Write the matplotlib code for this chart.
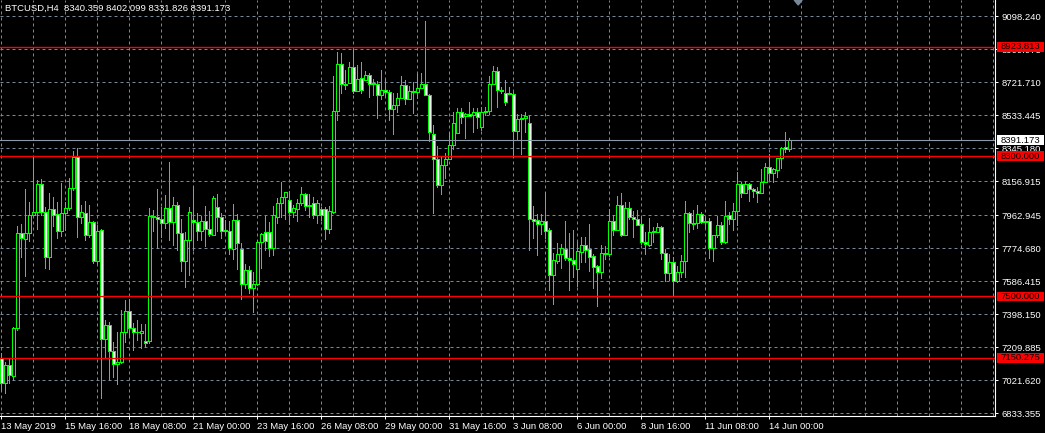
import numpy as np
import matplotlib
matplotlib.use("Agg")
import matplotlib.pyplot as plt
import matplotlib.transforms as mtransforms
from matplotlib.patches import Rectangle

plt.rcParams['font.family'] = ['Liberation Sans', 'DejaVu Sans']

symbol = 'BTCUSD,H4'

# H4 bars from 13 May 2019 00:00
opens = [
    7149, 7006, 7109, 7046, 7320, 7862, 7828, 7862, 7965, 7982,
    8142, 7982, 7725, 7999, 7970, 7873, 7976, 8005, 8119, 8296,
    7953, 7975, 7851, 7925, 7702, 7879, 7257, 7337, 7189, 7115,
    7126, 7297, 7417, 7320, 7297, 7291, 7246, 7246, 7959, 7953,
    7942, 7919, 8005, 7925, 8022, 7862, 7702, 7822, 7936, 7925,
    7873, 7930, 7885, 7851, 8010, 7953, 7873, 7873, 7771, 7936,
    7771, 7571, 7651, 7548, 7571, 7811, 7868, 7868, 7776, 7953,
    8033, 8068, 8050, 7982, 7999, 8033, 8084, 8016, 8033, 7965,
    7999, 7999, 7885, 7982, 8558, 8826, 8712, 8718, 8809, 8672,
    8746, 8735, 8763, 8712, 8712, 8649, 8678, 8666, 8569, 8592,
    8632, 8706, 8626, 8672, 8666, 8689, 8712, 8649, 8427, 8284,
    8136, 8250, 8284, 8364, 8432, 8552, 8529, 8541, 8535, 8552,
    8467, 8552, 8558, 8712, 8786, 8678, 8661, 8661, 8655, 8444,
    8512, 8518, 8489, 7942, 7936, 7913, 7930, 7879, 7622, 7702,
    7742, 7771, 7719, 7708, 7657, 7754, 7794, 7771, 7731, 7674,
    7639, 7742, 7742, 7930, 7879, 8022, 7851, 8005, 7953, 7942,
    7913, 7811, 7794, 7868, 7868, 7896, 7748, 7634, 7697, 7588,
    7639, 7702, 7976, 7919, 7919, 7970, 7925, 7930, 7776, 7851,
    7908, 7811, 7965, 7942, 7988, 8142, 8090, 8142, 8113, 8101,
    8090, 8153, 8239, 8204, 8221, 8290, 8350, 8340.359]
highs = [
    7177, 7126, 7149, 7326, 7902, 7913, 8113, 8039, 8301, 8164,
    8170, 8010, 8090, 8068, 8039, 8147, 8039, 8176, 8330, 8347,
    8022, 8045, 8022, 7930, 7908, 7885, 7366, 7354, 7240, 7297,
    7423, 7480, 7485, 7349, 7366, 7343, 7343, 8005, 7993, 8113,
    8010, 8079, 8267, 8068, 8039, 7942, 7868, 8010, 8130, 7976,
    7959, 8016, 7988, 8073, 8084, 7976, 7936, 7930, 8028, 7970,
    7805, 7685, 7674, 7640, 7822, 7862, 7959, 7925, 8016, 8062,
    8153, 8096, 8101, 8022, 8056, 8124, 8090, 8084, 8068, 8050,
    8010, 8010, 8016, 8758, 8895, 8889, 8792, 8838, 8912, 8820,
    8837, 8786, 8775, 8740, 8729, 8792, 8740, 8678, 8661, 8661,
    8758, 8735, 8701, 8723, 8769, 8775, 9071, 8655, 8478, 8358,
    8301, 8318, 8438, 8552, 8575, 8575, 8546, 8609, 8575, 8575,
    8581, 8581, 8758, 8815, 8809, 8695, 8735, 8695, 8666, 8541,
    8541, 8552, 8535, 8016, 7970, 7970, 8096, 7891, 7748, 7805,
    7799, 7930, 7862, 7879, 7811, 7839, 7839, 7913, 7742, 7679,
    7794, 7788, 7999, 7965, 8073, 8090, 8039, 8039, 7988, 7993,
    7959, 7868, 7947, 7896, 7919, 7902, 7771, 7742, 7725, 7674,
    7736, 8045, 7982, 7993, 8022, 7982, 7953, 7947, 7851, 7959,
    7925, 8045, 7982, 8033, 8210, 8153, 8159, 8147, 8119, 8124,
    8227, 8262, 8313, 8233, 8290, 8353, 8438, 8402.099]
lows = [
    6966, 6949, 7006, 7023, 7309, 7725, 7617, 7816, 7970, 7885,
    7965, 7662, 7657, 7902, 7833, 7845, 7879, 7993, 8107, 7839,
    7919, 7822, 7839, 7691, 7691, 6921, 7154, 7023, 7040, 7000,
    7120, 7240, 7269, 7194, 7251, 7206, 7211, 7234, 7873, 7776,
    7839, 7891, 7822, 7794, 7765, 7645, 7554, 7622, 7765, 7822,
    7822, 7788, 7845, 7851, 7873, 7833, 7862, 7742, 7714, 7657,
    7485, 7548, 7520, 7411, 7565, 7662, 7765, 7731, 7736, 7919,
    7953, 7942, 7913, 7953, 7930, 8022, 7993, 7953, 7947, 7919,
    7936, 7828, 7862, 7976, 8507, 8661, 8684, 8718, 8661, 8672,
    8661, 8735, 8638, 8649, 8518, 8626, 8638, 8507, 8427, 8552,
    8632, 8598, 8626, 8546, 8632, 8689, 8649, 8387, 7976, 8124,
    8084, 8176, 8284, 8341, 8432, 8489, 8404, 8529, 8438, 8461,
    8449, 8535, 8541, 8712, 8581, 8661, 8592, 8655, 8296, 8392,
    8313, 8438, 7765, 7833, 7736, 7856, 7833, 7537, 7457, 7691,
    7662, 7708, 7537, 7611, 7560, 7697, 7697, 7645, 7548, 7445,
    7605, 7714, 7731, 7851, 7879, 7845, 7851, 7942, 7839, 7908,
    7799, 7742, 7788, 7811, 7868, 7714, 7588, 7594, 7502, 7582,
    7611, 7611, 7868, 7885, 7891, 7919, 7891, 7719, 7702, 7839,
    7799, 7805, 7913, 7879, 7908, 8067, 8090, 8045, 8067, 8039,
    8090, 8153, 8164, 8153, 8181, 8233, 8326, 8331.826]
closes = [
    7006, 7109, 7052, 7320, 7862, 7833, 7862, 7965, 7982, 8142,
    7982, 7725, 7999, 7965, 7873, 7976, 8005, 8119, 8296, 7953,
    7982, 7851, 7925, 7702, 7873, 7257, 7337, 7189, 7115, 7126,
    7297, 7417, 7320, 7297, 7297, 7303, 7234, 7959, 7953, 7942,
    7919, 8005, 7925, 8022, 7862, 7702, 7822, 7982, 7925, 7873,
    7930, 7885, 7856, 8062, 7953, 7873, 7879, 7776, 7936, 7805,
    7571, 7651, 7548, 7571, 7811, 7856, 7816, 7776, 7965, 8033,
    8068, 8096, 7982, 8005, 8033, 8084, 8016, 8022, 7965, 8033,
    7965, 7885, 7988, 8558, 8826, 8712, 8706, 8809, 8672, 8741,
    8678, 8763, 8712, 8718, 8649, 8678, 8666, 8569, 8592, 8632,
    8706, 8626, 8672, 8666, 8689, 8712, 8649, 8438, 8284, 8136,
    8250, 8284, 8364, 8489, 8552, 8524, 8541, 8529, 8552, 8524,
    8552, 8558, 8712, 8786, 8678, 8672, 8609, 8655, 8444, 8512,
    8518, 8529, 7942, 7930, 7913, 7930, 7873, 7622, 7708, 7742,
    7776, 7719, 7708, 7685, 7759, 7794, 7765, 7725, 7668, 7639,
    7748, 7748, 7930, 7879, 8022, 7851, 8005, 7953, 7942, 7908,
    7811, 7799, 7868, 7873, 7896, 7748, 7634, 7697, 7588, 7639,
    7702, 7976, 7919, 7913, 7970, 7925, 7930, 7776, 7851, 7908,
    7811, 7959, 7942, 7988, 8142, 8090, 8142, 8113, 8101, 8090,
    8153, 8239, 8204, 8227, 8290, 8347, 8340, 8391.173]

tick_bars = list(range(0, 193, 16))
tick_labels = ['13 May 2019', '15 May 16:00', '18 May 08:00', '21 May 00:00',
               '23 May 16:00', '26 May 08:00', '29 May 00:00', '31 May 16:00',
               '3 Jun 08:00', '6 Jun 00:00', '8 Jun 16:00', '11 Jun 08:00',
               '14 Jun 00:00']
price_ticks = [9098.240, 8909.975, 8721.710, 8533.445, 8345.180, 8156.915,
               7962.945, 7774.680, 7586.415, 7398.150, 7209.885, 7021.620,
               6833.355]
red_levels = [8923.813, 8300.000, 7500.000, 7150.275]

o = np.array(opens, float)
h = np.array(highs, float)
l = np.array(lows, float)
c = np.array(closes, float)
h = np.maximum(h, np.maximum(o, c))
l = np.minimum(l, np.minimum(o, c))
idx = np.arange(len(o))
up = c >= o

W, H = 1045, 433
fig = plt.figure(figsize=(W / 100, H / 100), dpi=100, facecolor='black')
ax = fig.add_axes([0, 17 / H, 995 / W, 416 / H], facecolor='black')
ymin, ymax = 6817.9, 9191.2
ax.set_xlim(-0.33, 248.4)
ax.set_ylim(ymin, ymax)
px = (ymax - ymin) / 416.0

grid_col = '#778899'
fg = '#00ff00'
fs = 6.8

# grid
ax.set_axisbelow(True)
ax.set_xticks(tick_bars)
ax.set_xticks(range(0, 249, 8), minor=True)
ax.set_yticks(price_ticks)
ax.set_yticklabels([f'{v:.3f}' for v in price_ticks])
ax.set_xticklabels(tick_labels, ha='left')
ax.grid(True, which='both', color=grid_col, linestyle=(0, (3, 3)), linewidth=0.72)
ax.yaxis.tick_right()
ax.tick_params(axis='x', which='major', colors='white', length=2.5, width=0.72,
               pad=1.5, labelsize=fs)
ax.tick_params(axis='x', which='minor', length=0)
ax.tick_params(axis='y', colors='white', length=2.5, width=0.72, pad=2,
               labelsize=fs)
for s in ['top', 'left']:
    ax.spines[s].set_visible(False)
for s in ['right', 'bottom']:
    ax.spines[s].set_color('white')
    ax.spines[s].set_linewidth(0.8)

# candles: green outline, black body for up bars, white body for down bars
ax.vlines(idx, l, h, colors=fg, linewidth=0.6, zorder=2, antialiased=False)
ax.bar(idx, np.abs(c - o), bottom=np.minimum(o, c), width=0.62,
       color=np.where(up, 'black', 'white'), edgecolor=fg, linewidth=0.55,
       zorder=3, antialiased=False)

# level lines
for lv in red_levels:
    ax.axhline(lv, color='#ff0000', linewidth=1.0, zorder=4)
ax.axhline(c[-1], color='#8c9aa8', linewidth=0.8, zorder=4)

# price boxes on scale
trans = mtransforms.blended_transform_factory(ax.transAxes, ax.transData)
boxes = [(lv, '#ff0000') for lv in red_levels] + [(c[-1], 'white')]
for lv, col in boxes:
    ax.add_patch(Rectangle((1.002, lv - 4.8 * px), 0.047, 9.6 * px, transform=trans,
                           facecolor=col, edgecolor='none', clip_on=False, zorder=6))
    ax.text(1.0055, lv, f'{lv:.3f}', transform=trans, ha='left', va='center',
            fontsize=fs, color='black', clip_on=False, zorder=7)

# chart shift marker
sx = len(o) + 1.2
ax.fill([sx - 1.0, sx + 1.0, sx], [1.0, 1.0, 1 - 5 / 416], color=grid_col,
        transform=mtransforms.blended_transform_factory(ax.transData, ax.transAxes),
        clip_on=False, zorder=5)

fig.text(5 / W, 1 - 8 / H, f'{symbol}  {o[-1]:.3f} {h[-1]:.3f} {l[-1]:.3f} {c[-1]:.3f}',
         color='white', fontsize=fs, ha='left', va='center')

fig.savefig('out.png', dpi=100, facecolor='black')
